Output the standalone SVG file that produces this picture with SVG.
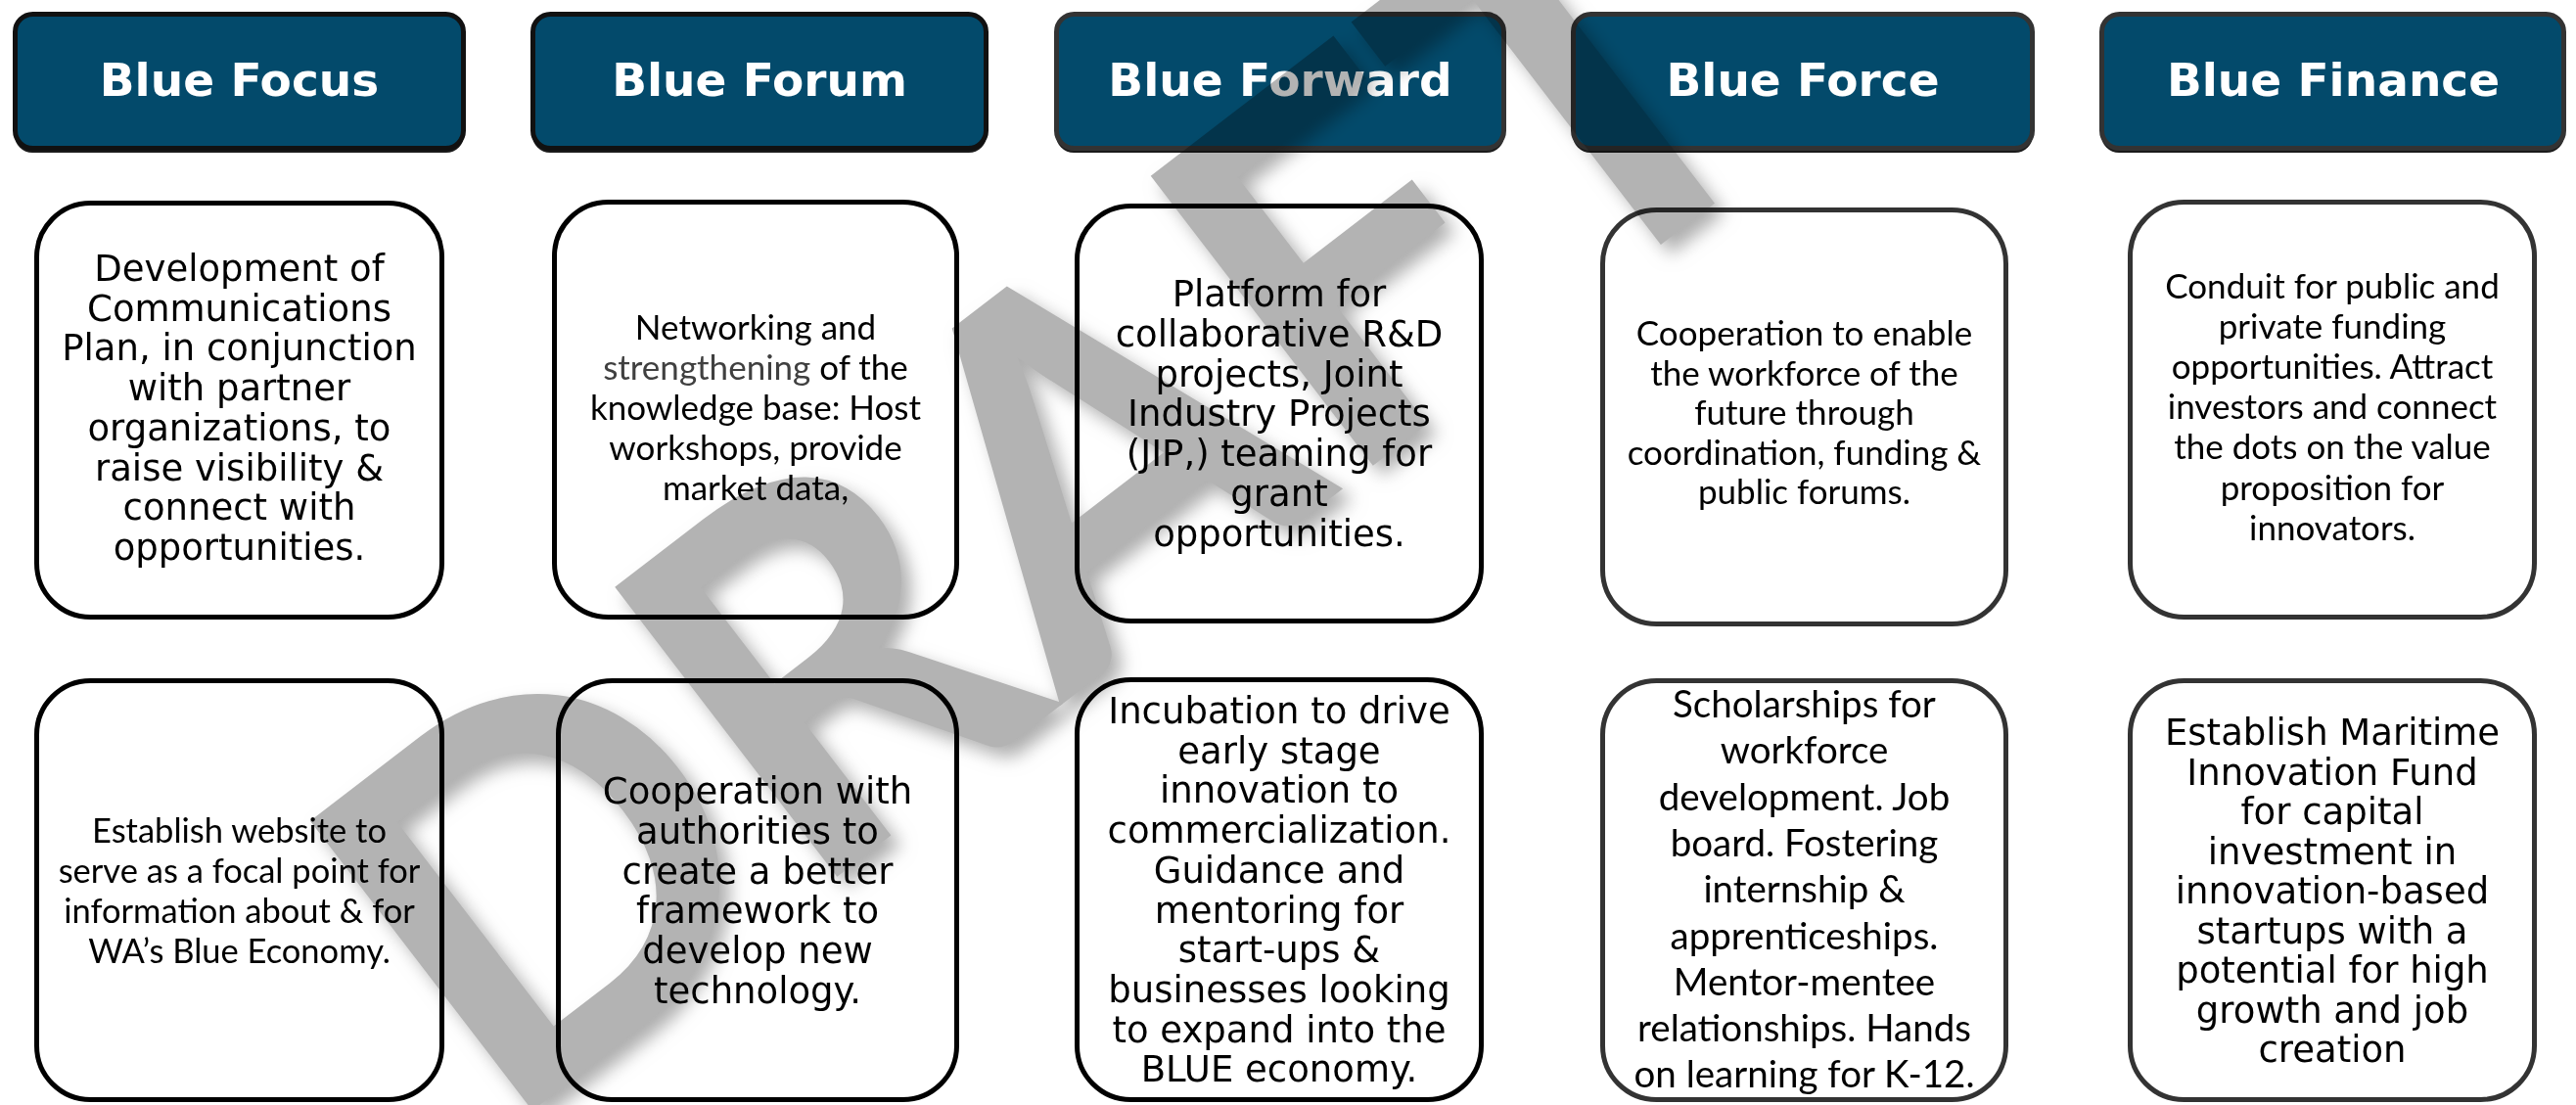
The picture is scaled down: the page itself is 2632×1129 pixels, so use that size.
<svg xmlns="http://www.w3.org/2000/svg" width="2632" height="1129" viewBox="0 0 2632 1129">
<style>
.hdr{fill:#034a6b;stroke:#111;stroke-width:5}
.hdr2{fill:#034a6b;stroke:#333;stroke-width:5}
.hsh{fill:#1a1a1a}
.ht{font-family:"DejaVu Sans",Verdana,sans-serif;font-weight:bold;font-size:47px;fill:#fff;text-anchor:middle}
.box{fill:#fff;stroke:#000;stroke-width:5}
.box2{fill:#fff;stroke:#333;stroke-width:5}
.v{font-family:"DejaVu Sans",Verdana,sans-serif;font-size:37px;fill:#000;text-anchor:middle}
.c{font-family:Lato,"Open Sans",sans-serif;font-size:35px;fill:#000;text-anchor:middle}
.wm{font-family:Lato,"Liberation Sans",sans-serif;font-weight:bold;font-size:516px;fill:#b3b3b3}
</style>
<defs>
<filter id="sh" x="-20%" y="-20%" width="140%" height="140%">
<feGaussianBlur in="SourceAlpha" stdDeviation="9"/>
<feOffset dx="10" dy="10" result="b"/>
<feFlood flood-color="#9a9a9a" flood-opacity="0.8"/>
<feComposite in2="b" operator="in" result="s"/>
<feMerge><feMergeNode in="s"/><feMergeNode in="SourceGraphic"/></feMerge>
</filter>
</defs>
<rect width="2632" height="1129" fill="#fff"/>
<g id="connectors"/>
<g id="header-focus"><rect class="hsh" x="15" y="18" width="459" height="138" rx="18"/><rect class="hdr" x="15.5" y="14.5" width="458" height="137" rx="18"/><text class="ht" x="244.5" y="98">Blue Focus</text></g>
<g id="header-forum"><rect class="hsh" x="544" y="18" width="464" height="138" rx="18"/><rect class="hdr" x="544.5" y="14.5" width="463" height="137" rx="18"/><text class="ht" x="776" y="98">Blue Forum</text></g>
<g id="header-forward"><rect class="hsh" x="1079" y="18" width="458" height="138" rx="18"/><rect class="hdr2" x="1079.5" y="14.5" width="457" height="137" rx="18"/><text class="ht" x="1308" y="98">Blue Forward</text></g>
<g id="header-force"><rect class="hsh" x="1607" y="18" width="470" height="138" rx="18"/><rect class="hdr2" x="1607.5" y="14.5" width="469" height="137" rx="18"/><text class="ht" x="1842" y="98">Blue Force</text></g>
<g id="header-finance"><rect class="hsh" x="2147" y="18" width="473" height="138" rx="18"/><rect class="hdr2" x="2147.5" y="14.5" width="472" height="137" rx="18"/><text class="ht" x="2384" y="98">Blue Finance</text></g>

<g id="focus-1"><rect class="box" x="37.5" y="207.5" width="414" height="423" rx="55"/>
<text class="v"><tspan x="244.5" y="287">Development of</tspan><tspan x="244.5" y="327.7">Communications</tspan><tspan x="244.5" y="368.4">Plan, in conjunction</tspan><tspan x="244.5" y="409.1">with partner</tspan><tspan x="244.5" y="449.8">organizations, to</tspan><tspan x="244.5" y="490.5">raise visibility &amp;</tspan><tspan x="244.5" y="531.2">connect with</tspan><tspan x="244.5" y="571.9">opportunities.</tspan></text></g>
<g id="forum-1"><rect class="box" x="566.5" y="206.5" width="411" height="424" rx="55"/>
<text class="c"><tspan x="772" y="347">Networking and</tspan><tspan x="772" y="388"><tspan fill="#404040">strengthening</tspan> of the</tspan><tspan x="772" y="429">knowledge base: Host</tspan><tspan x="772" y="470">workshops, provide</tspan><tspan x="772" y="511">market data,</tspan></text></g>
<g id="forward-1"><rect class="box" x="1100.5" y="210.5" width="413" height="424" rx="55"/>
<text class="v"><tspan x="1307" y="313">Platform for</tspan><tspan x="1307" y="353.8">collaborative R&amp;D</tspan><tspan x="1307" y="394.6">projects, Joint</tspan><tspan x="1307" y="435.4">Industry Projects</tspan><tspan x="1307" y="476.2">(JIP,) teaming for</tspan><tspan x="1307" y="517">grant</tspan><tspan x="1307" y="557.8">opportunities.</tspan></text></g>
<g id="force-1"><rect class="box2" x="1637.5" y="214.5" width="412" height="423" rx="55"/>
<text class="c"><tspan x="1843.5" y="353">Cooperation to enable</tspan><tspan x="1843.5" y="393.5">the workforce of the</tspan><tspan x="1843.5" y="434">future through</tspan><tspan x="1843.5" y="474.5">coordination, funding &amp;</tspan><tspan x="1843.5" y="515">public forums.</tspan></text></g>
<g id="finance-1"><rect class="box2" x="2176.5" y="206.5" width="413" height="424" rx="55"/>
<text class="c"><tspan x="2383" y="305">Conduit for public and</tspan><tspan x="2383" y="346.1">private funding</tspan><tspan x="2383" y="387.2">opportunities. Attract</tspan><tspan x="2383" y="428.3">investors and connect</tspan><tspan x="2383" y="469.4">the dots on the value</tspan><tspan x="2383" y="510.5">proposition for</tspan><tspan x="2383" y="551.6">innovators.</tspan></text></g>

<g id="focus-2"><rect class="box" x="37.5" y="695.5" width="414" height="428" rx="55"/>
<text class="c" style="font-size:34.5px"><tspan x="244.5" y="861">Establish website to</tspan><tspan x="244.5" y="902">serve as a focal point for</tspan><tspan x="244.5" y="943">information about &amp; for</tspan><tspan x="244.5" y="984">WA’s Blue Economy.</tspan></text></g>
<g id="forum-2"><rect class="box" x="570.5" y="695.5" width="407" height="428" rx="55"/>
<text class="v"><tspan x="774" y="821">Cooperation with</tspan><tspan x="774" y="861.8">authorities to</tspan><tspan x="774" y="902.6">create a better</tspan><tspan x="774" y="943.4">framework to</tspan><tspan x="774" y="984.2">develop new</tspan><tspan x="774" y="1025">technology.</tspan></text></g>
<g id="forward-2"><rect class="box" x="1100.5" y="694.5" width="413" height="429" rx="55"/>
<text class="v"><tspan x="1307" y="739">Incubation to drive</tspan><tspan x="1307" y="779.7">early stage</tspan><tspan x="1307" y="820.4">innovation to</tspan><tspan x="1307" y="861.1">commercialization.</tspan><tspan x="1307" y="901.8">Guidance and</tspan><tspan x="1307" y="942.5">mentoring for</tspan><tspan x="1307" y="983.2">start-ups &amp;</tspan><tspan x="1307" y="1023.9">businesses looking</tspan><tspan x="1307" y="1064.6">to expand into the</tspan><tspan x="1307" y="1105.3">BLUE economy.</tspan></text></g>
<g id="force-2"><rect class="box2" x="1637.5" y="695.5" width="412" height="428" rx="55"/>
<text class="c" style="font-size:38.5px"><tspan x="1843.5" y="733">Scholarships for</tspan><tspan x="1843.5" y="780.3">workforce</tspan><tspan x="1843.5" y="827.6">development. Job</tspan><tspan x="1843.5" y="874.9">board. Fostering</tspan><tspan x="1843.5" y="922.2">internship &amp;</tspan><tspan x="1843.5" y="969.5">apprenticeships.</tspan><tspan x="1843.5" y="1016.8">Mentor-mentee</tspan><tspan x="1843.5" y="1064.1">relationships. Hands</tspan><tspan x="1843.5" y="1111.4">on learning for K-12.</tspan></text></g>
<g id="finance-2"><rect class="box2" x="2176.5" y="695.5" width="413" height="428" rx="55"/>
<text class="v"><tspan x="2383" y="761">Establish Maritime</tspan><tspan x="2383" y="801.5">Innovation Fund</tspan><tspan x="2383" y="842">for capital</tspan><tspan x="2383" y="882.5">investment in</tspan><tspan x="2383" y="923">innovation-based</tspan><tspan x="2383" y="963.5">startups with a</tspan><tspan x="2383" y="1004">potential for high</tspan><tspan x="2383" y="1044.5">growth and job</tspan><tspan x="2383" y="1085">creation</tspan></text></g>

<g id="watermark" style="mix-blend-mode:multiply"><g filter="url(#sh)"><text class="wm" x="0" y="0" transform="translate(511,1160) rotate(-37.5)">DRAFT</text></g></g>
</svg>
